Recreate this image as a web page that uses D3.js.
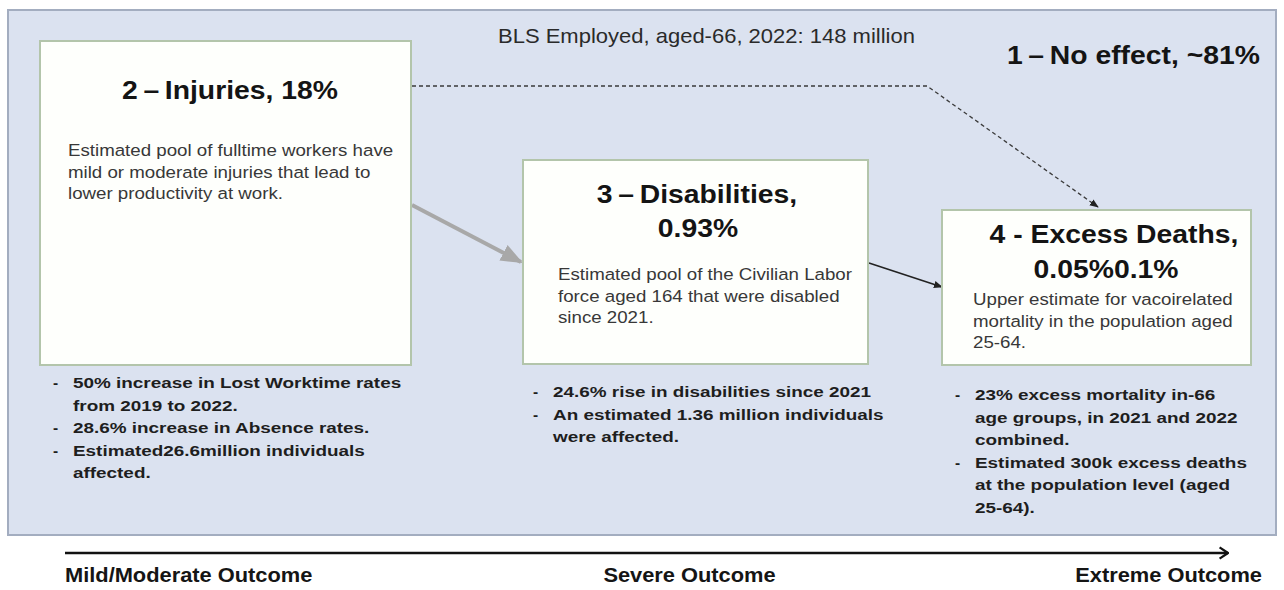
<!DOCTYPE html>
<html>
<head>
<meta charset="utf-8">
<script src="https://cdn.jsdelivr.net/npm/d3@7"></script>
<style>
  html, body { margin: 0; padding: 0; background: #ffffff; }
  svg { display: block; font-family: "Liberation Sans", Arial, Helvetica, sans-serif; }
</style>
</head>
<body>
<svg id="chart" width="1284" height="590"></svg>
<script>
// ---------- DATA ----------
const headerText = "BLS Employed, aged-66, 2022: 148 million";
const noEffectTitle = "1\u2009\u2013\u2009No effect, ~81%";

const stageIds = ["injuries", "disabilities", "deaths"];
const stageTitles = [
  ["2\u2009\u2013\u2009Injuries, 18%"],
  ["3\u2009\u2013\u2009Disabilities,", "0.93%"],
  ["4 - Excess Deaths,", "0.05%0.1%"]
];
const stageBodies = [
  ["Estimated pool of fulltime workers have", "mild or moderate injuries that lead to", "lower productivity at work."],
  ["Estimated pool of the Civilian Labor", "force aged 164 that were disabled", "since 2021."],
  ["Upper estimate for vacoirelated", "mortality in the population aged", "25-64."]
];
const stageBullets = [
  [["50% increase in Lost Worktime rates", "from 2019 to 2022."], ["28.6% increase in Absence rates."], ["Estimated26.6million individuals", "affected."]],
  [["24.6% rise in disabilities since 2021"], ["An estimated 1.36 million individuals", "were affected."]],
  [["23% excess mortality in-66", "age groups, in 2021 and 2022", "combined."], ["Estimated 300k excess deaths", "at the population level (aged", "25-64)."]]
];
const outcomeLabels = ["Mild/Moderate Outcome", "Severe Outcome", "Extreme Outcome"];

// ---------- LAYOUT (positions/styles, not data) ----------
const boxes = [
  {x: 40,  y: 41,  w: 371, h: 324, titleY: [99],       titleCx: [230],        bodyX: 68,  bodyY: 156, bulletX: 53,  bulletY: 388},
  {x: 523, y: 160, w: 345, h: 204, titleY: [203, 237], titleCx: [697, 698],   bodyX: 558, bodyY: 280, bulletX: 533, bulletY: 397},
  {x: 942, y: 210, w: 309, h: 155, titleY: [243, 278], titleCx: [1114, 1106], bodyX: 973, bodyY: 305, bulletX: 955, bulletY: 400}
];
const bodyLineH = 21.5;
const bulletLineH = 22.6;

const S = {
  header:  {size: 20, weight: "normal", sx: 1.1,  fill: "#2a2a2a"},
  title:   {size: 26, weight: "bold",   sx: 1.09, fill: "#141414"},
  body:    {size: 17, weight: "normal", sx: 1.1,  fill: "#383838"},
  bullet:  {size: 15.5, weight: "bold", sx: 1.22, fill: "#1e1e1e"},
  outcome: {size: 21, weight: "bold",   sx: 1.04, fill: "#151515"}
};

const svg = d3.select("#chart");
const defs = svg.append("defs");

function addText(parent, str, x, y, st, anchor) {
  return parent.append("text")
    .attr("transform", `translate(${x},${y}) scale(${st.sx},1)`)
    .attr("text-anchor", anchor || "start")
    .attr("font-size", st.size).attr("font-weight", st.weight)
    .attr("fill", st.fill).text(str);
}

function marker(id, color, size) {
  defs.append("marker")
    .attr("id", id).attr("viewBox", "0 0 10 10")
    .attr("refX", 9).attr("refY", 5)
    .attr("markerWidth", size).attr("markerHeight", size)
    .attr("orient", "auto")
    .attr("markerUnits", "userSpaceOnUse")
    .append("path").attr("d", "M0,1 L10,5 L0,9 z").attr("fill", color);
}
marker("arrBlack", "#222", 9);
marker("arrGrey", "#a8a8a8", 22);
defs.append("marker")
  .attr("id", "arrOpen").attr("viewBox", "0 0 10 10")
  .attr("refX", 9).attr("refY", 5)
  .attr("markerWidth", 14).attr("markerHeight", 14)
  .attr("orient", "auto").attr("markerUnits", "userSpaceOnUse")
  .append("path").attr("d", "M3,1 L9,5 L3,9").attr("fill", "none")
  .attr("stroke", "#111").attr("stroke-width", 1.6);

// Panel
svg.append("rect")
  .attr("x", 8).attr("y", 10).attr("width", 1268).attr("height", 525)
  .attr("fill", "#dbe2f0").attr("stroke", "#a3adc0").attr("stroke-width", 2);

// Header text & no-effect title
addText(svg, headerText, 498, 43, S.header);
addText(svg, noEffectTitle, 1260, 64, S.title, "end");

// Connectors
const lineGen = d3.line();
svg.append("path")
  .attr("d", lineGen([[412, 86], [927, 86], [1098, 207]]))
  .attr("fill", "none").attr("stroke", "#3a3a3a").attr("stroke-width", 1.3)
  .attr("stroke-dasharray", "4,3").attr("marker-end", "url(#arrBlack)");
svg.append("path")
  .attr("d", lineGen([[412, 205], [521, 262]]))
  .attr("fill", "none").attr("stroke", "#a8a8a8").attr("stroke-width", 4)
  .attr("marker-end", "url(#arrGrey)");
svg.append("path")
  .attr("d", lineGen([[869, 263], [942, 287]]))
  .attr("fill", "none").attr("stroke", "#222").attr("stroke-width", 1.6)
  .attr("marker-end", "url(#arrBlack)");

// Stage boxes
const stages = stageIds.map((id, i) => ({id, title: stageTitles[i], body: stageBodies[i], bullets: stageBullets[i], L: boxes[i]}));
const g = svg.selectAll("g.stage").data(stages).join("g").attr("class", "stage");

g.append("rect")
  .attr("x", d => d.L.x).attr("y", d => d.L.y)
  .attr("width", d => d.L.w).attr("height", d => d.L.h)
  .attr("fill", "#fefffc").attr("stroke", "#b3c5ab").attr("stroke-width", 2);

g.each(function(d) {
  const sel = d3.select(this);
  d.title.forEach((t, k) => addText(sel, t, d.L.titleCx[k], d.L.titleY[k], S.title, "middle"));
  d.body.forEach((t, k) => addText(sel, t, d.L.bodyX, d.L.bodyY + k * bodyLineH, S.body));
  let row = 0;
  d.bullets.forEach(b => {
    addText(sel, "-", d.L.bulletX, d.L.bulletY + row * bulletLineH, Object.assign({}, S.bullet, {sx: 1}));
    b.forEach(t => {
      addText(sel, t, d.L.bulletX + 20, d.L.bulletY + row * bulletLineH, S.bullet);
      row++;
    });
  });
});

// Bottom outcome axis
const xOut = d3.scalePoint().domain(outcomeLabels).range([65, 1262]);
svg.append("path")
  .attr("d", lineGen([[65, 553], [1228, 553]]))
  .attr("stroke", "#111").attr("stroke-width", 2.5).attr("fill", "none")
  .attr("marker-end", "url(#arrOpen)");
const anchors = ["start", "middle", "end"];
const outcomeShift = [0, 26, 0];
outcomeLabels.forEach((d, i) => addText(svg, d, xOut(d) + outcomeShift[i], 582, S.outcome, anchors[i]));
</script>
</body>
</html>
